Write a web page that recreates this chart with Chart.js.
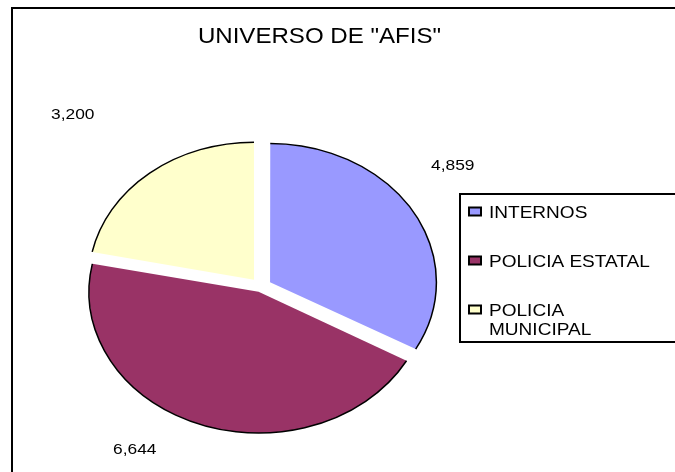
<!DOCTYPE html>
<html>
<head>
<meta charset="utf-8">
<script src="https://cdn.jsdelivr.net/npm/chart.js@4"></script>
<style>
  html, body { margin: 0; padding: 0; background: #fff; }
  canvas { display: block; }
</style>
</head>
<body>
<canvas id="grafico_afis" width="675" height="472"></canvas>
<script>
const titulo = 'UNIVERSO DE "AFIS"';
const categorias = ['INTERNOS', 'POLICIA ESTATAL', 'POLICIA MUNICIPAL'];
const valores = [4859, 6644, 3200];
const colores = ['#9999ff', '#993366', '#ffffcc'];

const FUENTE = "'Liberation Sans', Arial, sans-serif";
const ESTIRA = 1.12;   // el texto del original sale un poco ancho
const ASPECTO = 0.833; // el pastel va achatado en vertical

// donde van los numeros, relativo al centro del pastel
const posEtiquetas = [[192, -117], [-126, 167], [-188, -168]];

function texto(ctx, str, x, y, size, align) {
  ctx.save();
  ctx.font = size + 'px ' + FUENTE;
  ctx.fillStyle = '#000';
  ctx.textAlign = align || 'left';
  ctx.textBaseline = 'alphabetic';
  ctx.translate(x, y);
  ctx.scale(ESTIRA, 1);
  ctx.fillText(str, 0, 0);
  ctx.restore();
}

function achatar(chart) {
  const ctx = chart.ctx;
  const arc = chart.getDatasetMeta(0).data[0];
  ctx.translate(arc.x, arc.y);
  ctx.scale(1, ASPECTO);
  ctx.translate(-arc.x, -arc.y);
}

const pastelPlugin = {
  id: 'pastel',
  beforeDraw(chart) {
    const ctx = chart.ctx;
    ctx.save();
    ctx.lineWidth = 2;
    ctx.strokeStyle = '#000';
    ctx.strokeRect(12, 8, 800, 600);
    ctx.restore();
  },
  beforeDatasetsDraw(chart) {
    chart.ctx.save();
    achatar(chart);
  },
  afterDatasetsDraw(chart) {
    const ctx = chart.ctx;
    ctx.restore();

    // solo el borde exterior de cada rebanada
    const meta = chart.getDatasetMeta(0);
    ctx.save();
    ctx.save();
    achatar(chart);
    ctx.beginPath();
    meta.data.forEach(arc => {
      const p = arc.getProps(['x', 'y', 'startAngle', 'endAngle', 'outerRadius', 'circumference']);
      const off = (arc.options.offset || 0) / 4;
      const mitad = (p.startAngle + p.endAngle) / 2;
      const fix = 1 - Math.sin(Math.min(Math.PI, p.circumference));
      const rOff = off * fix;
      const R = p.outerRadius + rOff;
      const alpha = p.endAngle - p.startAngle;
      const beta = Math.max(0.001, alpha * R - rOff / Math.PI) / R;
      const a0 = p.startAngle + (alpha - beta) / 2;
      const a1 = p.endAngle - (alpha - beta) / 2;
      const ox = p.x + Math.cos(mitad) * off;
      const oy = p.y + Math.sin(mitad) * off;
      ctx.moveTo(ox + R * Math.cos(a0), oy + R * Math.sin(a0));
      ctx.arc(ox, oy, R, a0, a1);
    });
    ctx.restore();
    ctx.lineWidth = 1.5;
    ctx.strokeStyle = '#000';
    ctx.stroke();
    ctx.restore();

    // valores
    const cx = meta.data[0].x, cy = meta.data[0].y;
    valores.forEach((v, i) => {
      texto(ctx, v.toLocaleString('en-US'), cx + posEtiquetas[i][0], cy + posEtiquetas[i][1], 15.5, 'center');
    });
  },
  afterDraw(chart) {
    const ctx = chart.ctx;
    texto(ctx, titulo, 319.5, 43, 21.5, 'center');

    // leyenda
    ctx.save();
    ctx.lineWidth = 2;
    ctx.strokeStyle = '#000';
    ctx.strokeRect(460, 194, 300, 148);
    ctx.font = '17px ' + FUENTE;
    const maxAncho = (chart.width - 489 - 10) / ESTIRA;
    categorias.forEach((cat, i) => {
      const base = 217.5 + i * 49;
      ctx.fillStyle = colores[i];
      ctx.fillRect(469, base - 10, 12, 8);
      ctx.strokeRect(469, base - 10, 12, 8);
      let lineas = [cat];
      if (ctx.measureText(cat).width > maxAncho) lineas = cat.split(' ');
      lineas.forEach((l, j) => texto(ctx, l, 489, base + j * 19.3, 17, 'left'));
    });
    ctx.restore();
  }
};

new Chart(document.getElementById('grafico_afis'), {
  type: 'pie',
  data: {
    labels: categorias,
    datasets: [{
      data: valores,
      backgroundColor: colores,
      borderWidth: 0,
      offset: [43, 26, 43]
    }]
  },
  options: {
    responsive: false,
    animation: false,
    events: [],
    radius: 165,
    layout: { padding: { left: 0, top: 101.4, right: 153.4, bottom: 0 } },
    plugins: {
      legend: { display: false },
      tooltip: { enabled: false },
      title: { display: false }
    }
  },
  plugins: [pastelPlugin]
});
</script>
</body>
</html>
